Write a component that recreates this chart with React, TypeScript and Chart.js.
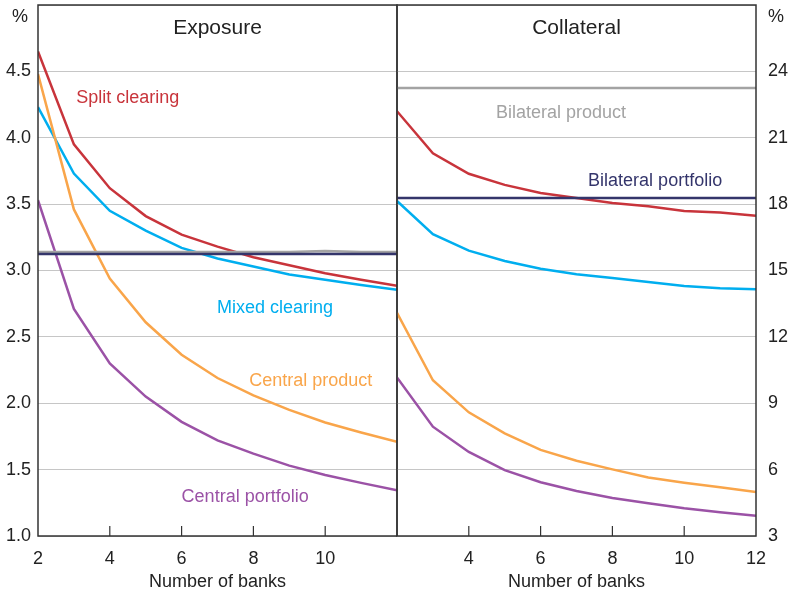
import React, { useEffect, useRef } from "react";
import { Chart, registerables } from "chart.js";
Chart.register(...registerables);

// ---------- data ----------
const banks = [2, 3, 4, 5, 6, 7, 8, 9, 10, 11, 12];

// Exposure panel (%)
const splitExposure = [4.65, 3.95, 3.62, 3.41, 3.27, 3.18, 3.1, 3.04, 2.98, 2.93, 2.885];
const mixedExposure = [4.23, 3.73, 3.45, 3.3, 3.17, 3.09, 3.03, 2.97, 2.93, 2.89, 2.855];
const centralProductExposure = [4.48, 3.46, 2.94, 2.61, 2.365, 2.19, 2.06, 1.95, 1.855, 1.78, 1.71];
const centralPortfolioExposure = [3.53, 2.71, 2.3, 2.05, 1.86, 1.72, 1.62, 1.53, 1.46, 1.4, 1.345];
const bilateralProductExposure = [3.14, 3.14, 3.14, 3.14, 3.14, 3.14, 3.14, 3.14, 3.147, 3.14, 3.14];
const bilateralPortfolioExposure = [3.125, 3.125, 3.125, 3.125, 3.125, 3.125, 3.125, 3.125, 3.125, 3.125, 3.125];

// Collateral panel (%)
const splitCollateral = [22.2, 20.3, 19.37, 18.87, 18.5, 18.28, 18.05, 17.9, 17.69, 17.62, 17.48];
const mixedCollateral = [18.14, 16.64, 15.9, 15.43, 15.08, 14.83, 14.66, 14.48, 14.3, 14.2, 14.15];
const centralProductCollateral = [13.09, 10.04, 8.59, 7.64, 6.89, 6.4, 6.01, 5.64, 5.41, 5.2, 4.99];
const centralPortfolioCollateral = [10.17, 7.94, 6.8, 5.98, 5.43, 5.03, 4.72, 4.48, 4.25, 4.07, 3.92];
const bilateralProductCollateral = [23.25, 23.25, 23.25, 23.25, 23.25, 23.25, 23.25, 23.25, 23.25, 23.25, 23.25];
const bilateralPortfolioCollateral = [18.28, 18.28, 18.28, 18.28, 18.28, 18.28, 18.28, 18.28, 18.28, 18.28, 18.28];

// ---------- styles ----------
const FONT = "'Liberation Sans', Arial, Helvetica, sans-serif";
const RED = "#c8343b";
const BLUE = "#00aeef";
const ORANGE = "#f9a54a";
const PURPLE = "#9b52a6";
const GRAY = "#a3a3a3";
const NAVY = "#34356b";
const TEXT = "#222222";
const FRAME = "#333333";
const GRID = "#c6c6c6";

const toPoints = (ys: number[]) => banks.map((x, i) => ({ x, y: ys[i] }));

function ds(label: string, ys: number[], color: string) {
  return {
    label,
    data: toPoints(ys),
    borderColor: color,
    backgroundColor: color,
    borderWidth: 2.5,
    pointRadius: 0,
    tension: 0,
    fill: false,
  };
}

type Note = { text: string; x: number; y: number; color: string };

function zeroPad(s: any) {
  s.paddingTop = 0;
  s.paddingBottom = 0;
  s.paddingLeft = 0;
  s.paddingRight = 0;
}

function decorPlugin(title: string, side: "left" | "right", notes: Note[]) {
  return {
    id: "decor",
    afterDatasetsDraw(chart: any) {
      const { ctx, chartArea } = chart;
      const xs = chart.scales.x;
      const ys = chart.scales.y;
      ctx.save();
      // frame
      ctx.strokeStyle = FRAME;
      ctx.lineWidth = 1.5;
      ctx.strokeRect(chartArea.left, chartArea.top, chartArea.right - chartArea.left, chartArea.bottom - chartArea.top);
      // inner tick marks on x axis
      ctx.lineWidth = 1.2;
      xs.ticks.forEach((t: any) => {
        if (t.value <= xs.min || t.value >= xs.max) return;
        const px = xs.getPixelForValue(t.value);
        ctx.beginPath();
        ctx.moveTo(px, chartArea.bottom);
        ctx.lineTo(px, chartArea.bottom - 10);
        ctx.stroke();
      });
      // panel title
      ctx.fillStyle = TEXT;
      ctx.font = `21px ${FONT}`;
      ctx.textAlign = "center";
      ctx.textBaseline = "middle";
      ctx.fillText(title, (chartArea.left + chartArea.right) / 2, chartArea.top + 23);
      // x-axis title
      ctx.font = `18px ${FONT}`;
      ctx.fillText("Number of banks", (chartArea.left + chartArea.right) / 2, chartArea.bottom + 46);
      // unit label
      if (side === "left") {
        ctx.textAlign = "center";
        ctx.fillText("%", chartArea.left - 18, chartArea.top + 12);
      } else {
        ctx.textAlign = "left";
        ctx.fillText("%", chartArea.right + 12, chartArea.top + 12);
      }
      // series labels
      ctx.font = `18px ${FONT}`;
      ctx.textAlign = "center";
      notes.forEach((n) => {
        ctx.fillStyle = n.color;
        ctx.fillText(n.text, xs.getPixelForValue(n.x), ys.getPixelForValue(n.y));
      });
      ctx.restore();
    },
  };
}

function makeConfig(
  side: "left" | "right",
  title: string,
  datasets: any[],
  yMin: number,
  yMax: number,
  yStep: number,
  notes: Note[]
): any {
  return {
    type: "line",
    data: { datasets },
    options: {
      responsive: false,
      animation: false,
      devicePixelRatio: 1,
      layout: {
        padding: side === "left" ? { top: 5, right: 3, left: 0, bottom: 0 } : { top: 5, left: 7, right: 0, bottom: 0 },
      },
      plugins: {
        legend: { display: false },
        tooltip: { enabled: false },
        title: { display: false },
      },
      scales: {
        x: {
          type: "linear",
          min: 2,
          max: 12,
          afterFit: (s: any) => {
            s.height = 58;
            zeroPad(s);
          },
          grid: { display: false, drawTicks: false },
          border: { display: false },
          ticks: {
            stepSize: 2,
            autoSkip: false,
            maxRotation: 0,
            padding: 12,
            color: TEXT,
            font: { family: FONT, size: 18 },
            callback: (v: number) => {
              if (side === "left" && v === 12) return "";
              if (side === "right" && v === 2) return "";
              return String(v);
            },
          },
        },
        y: {
          type: "linear",
          position: side,
          min: yMin,
          max: yMax,
          afterFit: (s: any) => {
            s.width = side === "left" ? 38 : 35;
            zeroPad(s);
          },
          grid: { color: GRID, lineWidth: 1, drawTicks: false },
          border: { display: false },
          ticks: {
            stepSize: yStep,
            padding: side === "left" ? 7 : 12,
            color: TEXT,
            font: { family: FONT, size: 18 },
            callback: (v: number) => {
              if (v === yMax) return "";
              return side === "left" ? v.toFixed(1) : String(v);
            },
          },
        },
      },
    },
    plugins: [decorPlugin(title, side, notes)],
  };
}

export default function App() {
  const leftRef = useRef<HTMLCanvasElement>(null);
  const rightRef = useRef<HTMLCanvasElement>(null);

  useEffect(() => {
    const left = new Chart(
      leftRef.current as HTMLCanvasElement,
      makeConfig(
        "left",
        "Exposure",
        [
          ds("Bilateral portfolio", bilateralPortfolioExposure, NAVY),
          ds("Bilateral product", bilateralProductExposure, GRAY),
          ds("Central portfolio", centralPortfolioExposure, PURPLE),
          ds("Central product", centralProductExposure, ORANGE),
          ds("Mixed clearing", mixedExposure, BLUE),
          ds("Split clearing", splitExposure, RED),
        ],
        1,
        5,
        0.5,
        [
          { text: "Split clearing", x: 4.5, y: 4.3, color: RED },
          { text: "Mixed clearing", x: 8.6, y: 2.72, color: BLUE },
          { text: "Central product", x: 9.6, y: 2.17, color: ORANGE },
          { text: "Central portfolio", x: 7.77, y: 1.29, color: PURPLE },
        ]
      )
    );
    const right = new Chart(
      rightRef.current as HTMLCanvasElement,
      makeConfig(
        "right",
        "Collateral",
        [
          ds("Bilateral product", bilateralProductCollateral, GRAY),
          ds("Bilateral portfolio", bilateralPortfolioCollateral, NAVY),
          ds("Central portfolio", centralPortfolioCollateral, PURPLE),
          ds("Central product", centralProductCollateral, ORANGE),
          ds("Mixed clearing", mixedCollateral, BLUE),
          ds("Split clearing", splitCollateral, RED),
        ],
        3,
        27,
        3,
        [
          { text: "Bilateral product", x: 6.57, y: 22.12, color: GRAY },
          { text: "Bilateral portfolio", x: 9.19, y: 19.05, color: NAVY },
        ]
      )
    );
    return () => {
      left.destroy();
      right.destroy();
    };
  }, []);

  return (
    <div style={{ position: "absolute", left: 0, top: 0, width: 791, height: 594, background: "#ffffff" }}>
      <canvas
        ref={leftRef}
        width={400}
        height={594}
        style={{ position: "absolute", left: 0, top: 0, width: 400, height: 594 }}
      />
      <canvas
        ref={rightRef}
        width={401}
        height={594}
        style={{ position: "absolute", left: 390, top: 0, width: 401, height: 594 }}
      />
    </div>
  );
}
